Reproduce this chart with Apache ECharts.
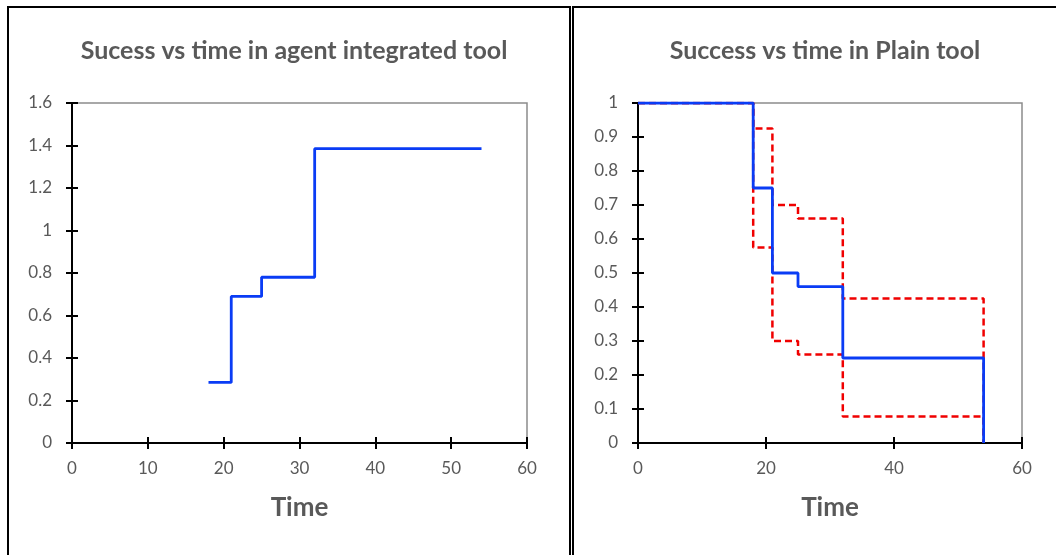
<!DOCTYPE html>
<html>
<head>
<meta charset="utf-8">
<script src="https://cdn.jsdelivr.net/npm/echarts@6/dist/echarts.min.js"></script>
<style>
  html, body { margin: 0; padding: 0; background: #fff; }
  #chart { width: 1056px; height: 555px; }
</style>
</head>
<body>
<div id="chart"></div>
<script>
// agent integrated tool (step curve)
const agentTime = [18, 21, 25, 32, 54]
const agentSuccess = [0.285, 0.69, 0.78, 1.385, 1.385]

// plain tool: estimate + dashed bounds
const plainTime = [0, 18, 21, 25, 32, 54]
const plainSuccess = [1, 0.75, 0.5, 0.46, 0.25, 0]
const plainUpper = [1, 0.925, 0.70, 0.66, 0.425, 0]
const plainLower = [1, 0.575, 0.30, 0.26, 0.078, 0]

const leftTitle = 'Sucess vs time in agent integrated tool'
const rightTitle = 'Success vs time in Plain tool'
const xName = 'Time'

const textColor = '#595959'
const font = 'Lato, "Open Sans", sans-serif'

const pairs = (xs, ys) => xs.map((x, i) => [x, ys[i]])

// main axis: black line, ticks outside + labels
const mainAxis = (gridIndex, min, max, interval, extra) => Object.assign({
  type: 'value',
  gridIndex,
  min, max, interval,
  splitLine: { show: false },
  axisLine: { show: true, onZero: false, lineStyle: { color: '#000', width: 2 } },
  axisTick: { show: true, inside: false, length: 6, lineStyle: { color: '#000', width: 2 } },
  axisLabel: { color: textColor, fontSize: 17, fontFamily: font }
}, extra)

// twin axis only for the inner half of the crossing ticks
const innerAxis = (gridIndex, min, max, interval, position) => ({
  type: 'value',
  gridIndex,
  position,
  min, max, interval,
  splitLine: { show: false },
  axisLine: { show: false, onZero: false },
  axisTick: { show: true, inside: true, length: 6, lineStyle: { color: '#000', width: 2 } },
  axisLabel: { show: false }
})

const xNameOpts = {
  name: xName,
  nameLocation: 'middle',
  nameGap: 52,
  nameTextStyle: { color: textColor, fontSize: 26, fontWeight: 'bold', fontFamily: font }
}

const chart = echarts.init(document.getElementById('chart'))

const option = {
  animation: false,
  backgroundColor: '#fff',
  title: [
    { text: leftTitle, left: 289, top: 33, textAlign: 'center',
      textStyle: { color: textColor, fontSize: 25, fontWeight: 'bold', fontFamily: font } },
    { text: rightTitle, left: 820, top: 33, textAlign: 'center',
      textStyle: { color: textColor, fontSize: 25, fontWeight: 'bold', fontFamily: font } }
  ],
  graphic: [
    { type: 'rect', shape: { x: 8, y: 7, width: 562, height: 560 },
      style: { fill: 'none', stroke: '#000', lineWidth: 2 }, silent: true },
    { type: 'rect', shape: { x: 573, y: 7, width: 500, height: 560 },
      style: { fill: 'none', stroke: '#000', lineWidth: 2 }, silent: true }
  ],
  grid: [
    { left: 72, top: 103, width: 455, height: 340, show: true,
      borderColor: '#8c8c8c', borderWidth: 1.5, backgroundColor: 'transparent' },
    { left: 638, top: 103, width: 384, height: 340, show: true,
      borderColor: '#8c8c8c', borderWidth: 1.5, backgroundColor: 'transparent' }
  ],
  xAxis: [
    mainAxis(0, 0, 60, 10, Object.assign({ position: 'bottom', axisLabel: { color: textColor, fontSize: 17, fontFamily: font, margin: 17 } }, xNameOpts)),
    innerAxis(0, 0, 60, 10, 'bottom'),
    mainAxis(1, 0, 60, 20, Object.assign({ position: 'bottom', axisLabel: { color: textColor, fontSize: 17, fontFamily: font, margin: 17 } }, xNameOpts)),
    innerAxis(1, 0, 60, 20, 'bottom')
  ],
  yAxis: [
    mainAxis(0, 0, 1.6, 0.2, { position: 'left', axisLabel: { color: textColor, fontSize: 17, fontFamily: font, margin: 20 } }),
    innerAxis(0, 0, 1.6, 0.2, 'left'),
    mainAxis(1, 0, 1, 0.1, { position: 'left', axisLabel: { color: textColor, fontSize: 17, fontFamily: font, margin: 20 } }),
    innerAxis(1, 0, 1, 0.1, 'left')
  ],
  series: [
    {
      type: 'line', xAxisIndex: 0, yAxisIndex: 0, step: 'end',
      showSymbol: false, data: pairs(agentTime, agentSuccess),
      lineStyle: { color: '#0a3cf5', width: 2.8 }
    },
    {
      type: 'line', xAxisIndex: 2, yAxisIndex: 2, step: 'end',
      showSymbol: false, data: pairs(plainTime, plainUpper),
      lineStyle: { color: '#f00000', width: 2.5, type: [7, 4] }
    },
    {
      type: 'line', xAxisIndex: 2, yAxisIndex: 2, step: 'end',
      showSymbol: false, data: pairs(plainTime, plainLower),
      lineStyle: { color: '#f00000', width: 2.5, type: [7, 4] }
    },
    {
      type: 'line', xAxisIndex: 2, yAxisIndex: 2, step: 'end',
      showSymbol: false, data: pairs(plainTime, plainSuccess),
      lineStyle: { color: '#0a3cf5', width: 2.8 }
    }
  ]
}

chart.setOption(option)

window.addEventListener('resize', () => {
  chart && chart.resize()
})
</script>
</body>
</html>
